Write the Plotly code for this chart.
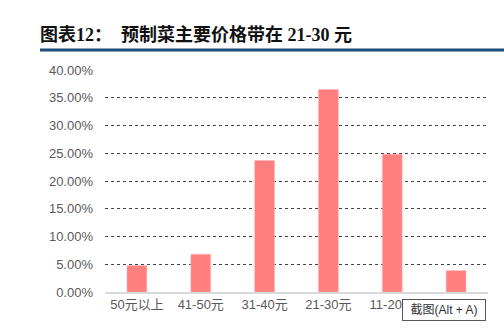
import plotly.graph_objects as go

categories = ["50元以上", "41-50元", "31-40元", "21-30元", "11-20元", "10元以下"]
values = [0.0475, 0.068, 0.237, 0.365, 0.248, 0.0385]
# the last label is hidden under the screenshot overlay in the reference
tick_labels = ["50元以上", "41-50元", "31-40元", "21-30元", "11-20元", ""]
tick_vals = [0, 0.05, 0.10, 0.15, 0.20, 0.25, 0.30, 0.35, 0.40]

title_text = "<b>图表12：  预制菜主要价格带在 21-30 元</b>"
overlay_text = "截图(Alt + A)"

W, H = 504, 330
ML, MR, MT, MB = 105, 16, 70, 38
pw = W - ML - MR
ph = H - MT - MB

def px_x(x):
    return (x - ML) / pw

def px_y(y):
    return (H - MB - y) / ph

fig = go.Figure(go.Bar(
    x=categories, y=values,
    marker=dict(color="#FF7F7F", line=dict(color="#FFB0B0", width=0.5)),
    width=0.31,
))

fig.update_layout(
    width=W, height=H,
    margin=dict(l=ML, r=MR, t=MT, b=MB),
    paper_bgcolor="white", plot_bgcolor="white",
    showlegend=False,
    font=dict(family="Liberation Sans, Noto Sans CJK SC", size=13, color="#595959"),
    title=dict(
        text=title_text,
        x=40 / W, xanchor="left", xref="container",
        y=1 - 35 / H, yanchor="middle", yref="container",
        font=dict(family="Liberation Serif, Noto Sans CJK SC", size=18, color="#111111"),
    ),
    xaxis=dict(
        showline=True, linecolor="#D9D9D9", linewidth=1.5,
        showgrid=False, ticks="", tickfont=dict(size=13, color="#595959"),
        tickmode="array", tickvals=categories, ticktext=tick_labels,
        fixedrange=True,
    ),
    yaxis=dict(
        range=[0, 0.4], tickvals=tick_vals, tickformat=".2%",
        showgrid=True, gridcolor="#444444", gridwidth=1, griddash="dot",
        zeroline=False, showline=False, ticks="",
        ticklabelstandoff=11,
        tickfont=dict(size=13, color="#595959"),
    ),
    shapes=[dict(
        type="line", xref="paper", yref="paper",
        x0=px_x(40), x1=px_x(504), y0=px_y(50), y1=px_y(50),
        line=dict(color="#1F4E79", width=3),
    )],
    annotations=[dict(
        text=overlay_text, xref="paper", yref="paper",
        x=px_x(444), y=px_y(310), xanchor="center", yanchor="middle",
        showarrow=False, bgcolor="white", bordercolor="#555555", borderwidth=1,
        width=80, height=18, font=dict(size=12, color="#333333"),
    )],
)

fig.write_html("out.html")
